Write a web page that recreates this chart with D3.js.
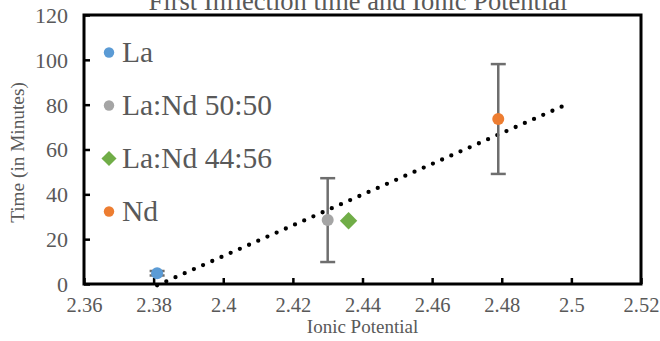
<!DOCTYPE html>
<html><head><meta charset="utf-8">
<script src="https://cdn.jsdelivr.net/npm/d3@7"></script>
<style>body{margin:0;background:#fff;}svg{display:block;}</style>
</head><body><svg id="c" width="660" height="341"></svg>
<script>
const seriesNames = ["La", "La:Nd 50:50", "La:Nd 44:56", "Nd"];
const seriesX = [2.381, 2.430, 2.436, 2.479];
const seriesY = [4.8, 28.5, 28.2, 73.6];
const seriesErr = [1.0, 18.7, 0, 24.5];
const seriesColors = ["#5B9BD5", "#A5A5A5", "#70AD47", "#ED7D31"];
const seriesShapes = ["circle", "circle", "diamond", "circle"];
const trendX = [2.381, 2.4975];
const trendY = [-0.6, 79.3];
const xTicks = [2.36, 2.38, 2.4, 2.42, 2.44, 2.46, 2.48, 2.5, 2.52];
const yTicks = [0, 20, 40, 60, 80, 100, 120];

const svg = d3.select("#c");
const font = "'Liberation Serif','Times New Roman',serif";
const txt = "#595959";
const L = 84, R = 641, T = 15, B = 284;
const x = d3.scaleLinear().domain([2.36, 2.52]).range([L, R]);
const y = d3.scaleLinear().domain([0, 120]).range([B, T]);

// title
svg.append("text").attr("x", 358).attr("y", 9.5).attr("text-anchor", "middle")
  .attr("font-family", font).attr("font-size", 26.5).attr("fill", txt)
  .text("First Inflection time and Ionic Potential");

// axes
const xAxis = svg.append("g").attr("transform", `translate(0,${B})`)
  .call(d3.axisBottom(x).tickValues(xTicks).tickSizeInner(-6).tickSizeOuter(0).tickPadding(27.5)
    .tickFormat(d => d3.format("")(+d.toFixed(2))));
const yAxis = svg.append("g").attr("transform", `translate(${L},0)`)
  .call(d3.axisLeft(y).tickValues(yTicks).tickSizeInner(-6).tickSizeOuter(0).tickPadding(16));
[xAxis, yAxis].forEach(a => {
  a.select(".domain").remove();
  a.selectAll(".tick line").attr("stroke", "#000").attr("stroke-width", 2.5);
  a.selectAll(".tick text").attr("font-family", font).attr("font-size", 20.5).attr("fill", txt);
});
xAxis.selectAll(".tick text").attr("dy", 0);
yAxis.selectAll(".tick text").attr("dy", "0.34em").attr("font-size", 22);

// border
svg.append("rect").attr("x", L).attr("y", T).attr("width", R - L).attr("height", B - T)
  .attr("fill", "none").attr("stroke", "#000").attr("stroke-width", 3);

// axis titles
svg.append("text").attr("x", (L + R) / 2).attr("y", 333).attr("text-anchor", "middle")
  .attr("font-family", font).attr("font-size", 19).attr("fill", txt).text("Ionic Potential");
svg.append("text").attr("transform", `translate(24,${(T + B) / 2 + 3}) rotate(-90)`)
  .attr("text-anchor", "middle").attr("font-family", font).attr("font-size", 19.3)
  .attr("fill", txt).text("Time (in Minutes)");

// trendline
svg.append("path")
  .attr("d", d3.line().x(d => x(d[0])).y(d => y(d[1]))(trendX.map((v, i) => [v, trendY[i]])))
  .attr("fill", "none").attr("stroke", "#000").attr("stroke-width", 4.3)
  .attr("stroke-linecap", "round").attr("stroke-dasharray", "0 10.05");

// error bars
const data = seriesNames.map((n, i) => ({ n, x: seriesX[i], y: seriesY[i], e: seriesErr[i], c: seriesColors[i], s: seriesShapes[i] }));
const eb = svg.append("g").attr("stroke", "#6E6E6E").attr("stroke-width", 2.5);
data.filter(d => d.e > 0).forEach(d => {
  const cx = x(d.x);
  eb.append("line").attr("x1", cx).attr("x2", cx).attr("y1", y(d.y - d.e)).attr("y2", y(d.y + d.e));
  [d.y - d.e, d.y + d.e].forEach(v => eb.append("line").attr("x1", cx - 7.5).attr("x2", cx + 7.5).attr("y1", y(v)).attr("y2", y(v)));
});

function marker(g, d, cx, cy, r) {
  if (d.s === "diamond") {
    g.append("path").attr("d", `M${cx},${cy - r * 1.45}L${cx + r * 1.45},${cy}L${cx},${cy + r * 1.45}L${cx - r * 1.45},${cy}Z`).attr("fill", d.c);
  } else {
    g.append("circle").attr("cx", cx).attr("cy", cy).attr("r", r).attr("fill", d.c);
  }
}
const pts = svg.append("g");
data.forEach(d => marker(pts, d, x(d.x), y(d.y), 6));

// legend
const lg = svg.append("g");
data.forEach((d, i) => {
  const cy = 52.5 + i * 53;
  marker(lg, d, 109, cy, 5.2);
  lg.append("text").attr("x", 122).attr("y", cy + 9.5).attr("font-family", font)
    .attr("font-size", 29.5).attr("fill", txt).text(d.n);
});
</script></body></html>
